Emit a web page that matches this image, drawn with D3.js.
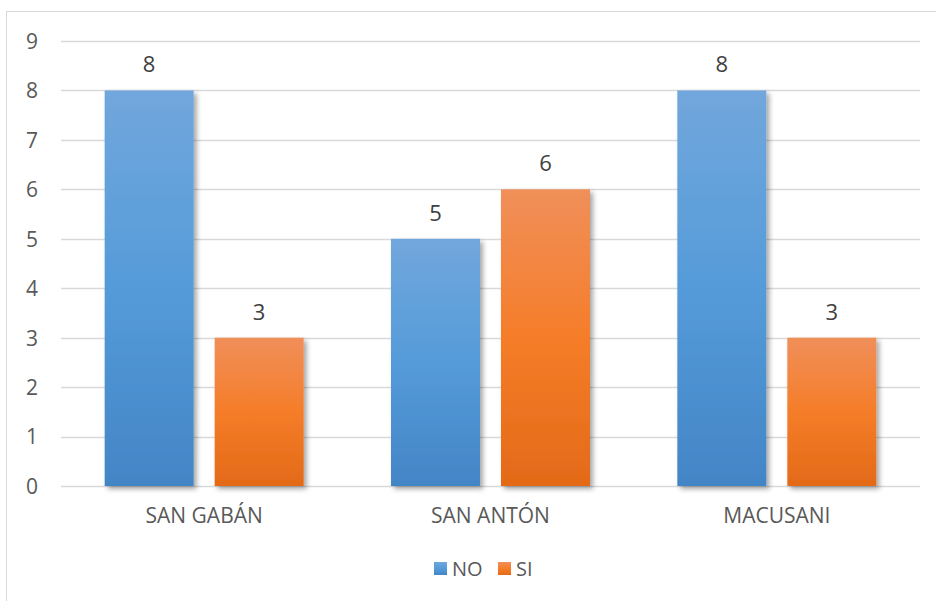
<!DOCTYPE html>
<html><head><meta charset="utf-8">
<script src="https://cdn.jsdelivr.net/npm/d3@7"></script>
<style>body{margin:0;background:#fff}svg{display:block}text{font-family:"Open Sans","Liberation Sans",sans-serif}</style>
</head><body>
<script>
const categories = ["SAN GABÁN", "SAN ANTÓN", "MACUSANI"];
const seriesNames = ["NO", "SI"];
const valuesNO = [8, 5, 8];
const valuesSI = [3, 6, 3];
const yTicks = [0,1,2,3,4,5,6,7,8,9];

(function(){
const W = 936, H = 601;
const svg = d3.select("body").append("svg").attr("width", W).attr("height", H);
const defs = svg.append("defs");

const grads = {
  NO: ["#71a7dc", "#559bd9", "#4385c6"],
  SI: ["#f08f5a", "#f57d29", "#e36a18"]
};
Object.entries(grads).forEach(([k, c]) => {
  const g = defs.append("linearGradient").attr("id", "g" + k).attr("x1", 0).attr("y1", 0).attr("x2", 0).attr("y2", 1);
  g.append("stop").attr("offset", "0%").attr("stop-color", c[0]);
  g.append("stop").attr("offset", "50%").attr("stop-color", c[1]);
  g.append("stop").attr("offset", "100%").attr("stop-color", c[2]);
});
const f = defs.append("filter").attr("id", "shadow").attr("x", "-20%").attr("y", "-10%").attr("width", "150%").attr("height", "130%");
f.append("feDropShadow").attr("dx", 3).attr("dy", 3).attr("stdDeviation", 2.5).attr("flood-color", "#000").attr("flood-opacity", 0.35);

svg.append("rect").attr("x", 6.5).attr("y", 11.5).attr("width", 1000).attr("height", 1000)
  .attr("fill", "none").attr("stroke", "#d9d9d9");

const mL = 61, mR = 920, mT = 41, mB = 486;
const y = d3.scaleLinear().domain([0, 9]).range([mB, mT]);
const x0 = d3.scaleBand().domain(categories).range([mL, mR]).padding(0);
const x1 = d3.scaleBand().domain(seriesNames).range([0, x0.bandwidth()]).paddingInner(0.191).paddingOuter(0.397);
const color = {NO: "url(#gNO)", SI: "url(#gSI)"};

svg.append("g").selectAll("line").data(yTicks).join("line")
  .attr("x1", mL).attr("x2", mR)
  .attr("y1", d => Math.round(y(d)) + 0.5).attr("y2", d => Math.round(y(d)) + 0.5)
  .attr("stroke", "#d9d9d9").attr("stroke-width", 1.3);

const yAxis = d3.axisLeft(y).tickValues(yTicks).tickSize(0).tickPadding(0);
const ya = svg.append("g").attr("transform", `translate(${38},0)`).call(yAxis);
ya.select(".domain").remove();
ya.selectAll("text").attr("font-size", 21).attr("fill", "#595959").attr("dy", "0.35em");

const data = categories.map((c, i) => ({cat: c, vals: [{s: "NO", v: valuesNO[i]}, {s: "SI", v: valuesSI[i]}]}));

const groups = svg.append("g").selectAll("g").data(data).join("g")
  .attr("transform", d => `translate(${x0(d.cat)},0)`);
groups.selectAll("rect").data(d => d.vals).join("rect")
  .attr("x", d => x1(d.s)).attr("width", x1.bandwidth())
  .attr("y", d => y(d.v)).attr("height", d => y(0) - y(d.v))
  .attr("fill", d => color[d.s]).attr("filter", "url(#shadow)");
groups.selectAll("text").data(d => d.vals).join("text")
  .attr("x", d => x1(d.s) + x1.bandwidth() / 2).attr("y", d => y(d.v) - 18)
  .attr("text-anchor", "middle").attr("font-size", 22).attr("fill", "#404040")
  .text(d => d.v);

const xAxis = d3.axisBottom(x0).tickSize(0).tickPadding(0);
const xa = svg.append("g").attr("transform", `translate(0,${mB + 30})`).call(xAxis);
xa.select(".domain").remove();
xa.selectAll("text").attr("font-size", 21).attr("fill", "#595959").attr("dy", "0.35em");

const legendX = [434, 498];
const lg = svg.append("g").selectAll("g").data(seriesNames).join("g")
  .attr("transform", (d, i) => `translate(${legendX[i]},562)`);
lg.append("rect").attr("width", 13).attr("height", 13).attr("fill", d => color[d]);
lg.append("text").attr("x", 18).attr("y", 7).attr("dy", "0.35em").attr("font-size", 20).attr("fill", "#595959").text(d => d);
})();
</script>
</body></html>
